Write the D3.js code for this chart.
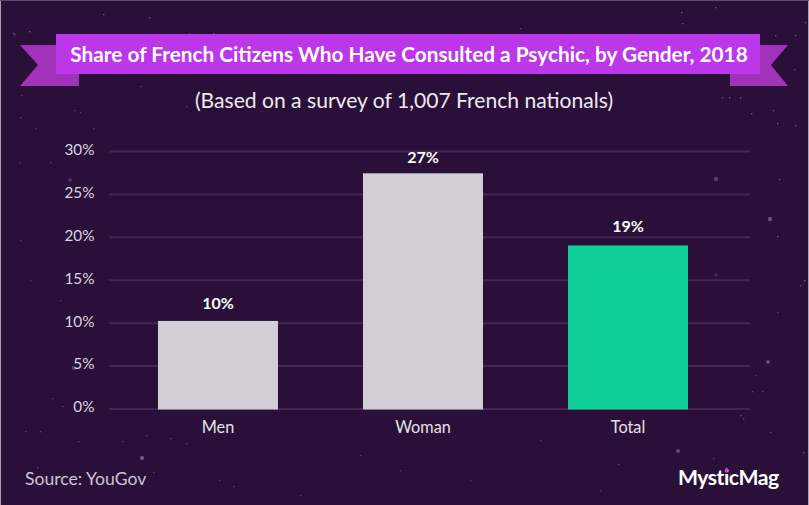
<!DOCTYPE html>
<html>
<head>
<meta charset="utf-8">
<script src="https://cdnjs.cloudflare.com/ajax/libs/d3/7.8.5/d3.min.js"></script>
<style>
    html, body { margin: 0; padding: 0; background: #2a1038; }
    svg { display: block; font-family: Lato, "Open Sans", sans-serif; }
</style>
</head>
<body>
<div id="chart"></div>
<script>
const categories = ["Men", "Woman", "Total"];
const shares = [10.2, 27.4, 19];
const shareLabels = [10, 27, 19];
const yTicks = [0, 5, 10, 15, 20, 25, 30];

const titleText = "Share of French Citizens Who Have Consulted a Psychic, by Gender, 2018";
const subtitleText = "(Based on a survey of 1,007 French nationals)";
const sourceText = "Source: YouGov";
const logoText = "MysticMag";

// background specks: [x, y, opacity]
const stars = [
    [103, 14, .5], [149, 17, .5], [29, 31, .6], [189, 33, .3], [13, 33, .5], [213, 33, .4],
    [14, 34, .4], [21, 95, .3], [140, 86, .4], [186, 106, .3], [20, 117, .4],
    [74, 110, .3], [80, 112, .3], [35, 128, .3], [93, 128, .3], [19, 162, .3], [50, 162, .3],
    [715, 7, .5], [681, 12, .5], [682, 23, .5], [805, 22, .5], [795, 35, .5], [775, 35, .5],
    [722, 97, .5], [729, 97, .5], [751, 113, .5], [740, 97, .5], [773, 110, .5], [777, 123, .5],
    [795, 125, .5], [794, 69, .4], [40, 431, .4], [25, 431, .4], [146, 435, .4], [122, 441, .3],
    [37, 467, .4], [78, 441, .4], [170, 438, .4], [186, 443, .4], [219, 480, .4], [233, 486, .4],
    [153, 472, .4], [740, 415, .4], [770, 432, .4], [743, 418, .4], [803, 452, .5], [713, 458, .4],
    [618, 464, .4], [300, 60, .3], [420, 40, .3], [520, 28, .4], [600, 70, .3], [360, 455, .3],
    [470, 480, .3], [540, 440, .3], [400, 470, .3], [300, 495, .3], [600, 490, .3], [804, 280, .5],
    [30, 280, .3], [779, 179, .5], [20, 240, .3], [777, 236, .5], [60, 300, .3], [800, 285, .4],
    [777, 312, .4], [755, 375, .3], [762, 391, .3], [752, 391, .4], [62, 406, .4], [52, 398, .3]
];
// larger blurred stars: [x, y, radius, opacity]
const glowStars = [
    [142, 458, 2, .75], [678, 451, 2, .55], [716, 179, 2.2, .45], [770, 219, 2.2, .6],
    [768, 362, 1.8, .7], [70, 180, 2, .35], [74, 368, 2.2, .4], [716, 275, 1.6, .3]
];

const width = 809;
const height = 505;

const svg = d3.select("#chart").append("svg")
    .attr("width", width)
    .attr("height", height);

svg.append("rect")
    .attr("width", width)
    .attr("height", height)
    .attr("fill", "#2a1038");

// thin grey edge of the original image
svg.append("path")
    .attr("d", `M0.5,${height} V0.5 M${width - 0.5},0 V${height}`)
    .attr("stroke", "#a9a0b0");
svg.append("path")
    .attr("d", `M0,0.5 H${width}`)
    .attr("stroke", "#5f5069");

svg.append("g").selectAll("rect")
    .data(stars)
    .enter().append("rect")
    .attr("x", d => d[0])
    .attr("y", d => d[1])
    .attr("width", 1.3)
    .attr("height", 1.3)
    .attr("fill", "#b9a8c6")
    .attr("opacity", d => d[2]);

svg.append("g").selectAll("circle")
    .data(glowStars)
    .enter().append("circle")
    .attr("cx", d => d[0])
    .attr("cy", d => d[1])
    .attr("r", d => d[2])
    .attr("fill", "#9a6bb8")
    .attr("opacity", d => d[3]);

// ribbon
const ribbon = svg.append("g");
ribbon.append("path")
    .attr("d", "M20,45 H79 V86 H20 L38,65 Z")
    .attr("fill", "#a033b8");
ribbon.append("path")
    .attr("d", "M788,45 H730 V86 H788 L771,65 Z")
    .attr("fill", "#a033b8");
ribbon.append("rect")
    .attr("x", 56)
    .attr("y", 34)
    .attr("width", 704)
    .attr("height", 40)
    .attr("fill", "#bc37ea");
ribbon.append("text")
    .attr("x", 409)
    .attr("y", 62)
    .attr("text-anchor", "middle")
    .attr("font-size", 20.8)
    .attr("font-weight", 700)
    .attr("fill", "#fff")
    .text(titleText);

svg.append("text")
    .attr("x", 404)
    .attr("y", 108)
    .attr("text-anchor", "middle")
    .attr("font-size", 21.1)
    .attr("fill", "#efeaf2")
    .text(subtitleText);

// scales
const x = d3.scaleBand()
    .domain(categories)
    .range([115.5, 730.5])
    .paddingInner(0.4146)
    .paddingOuter(0.2073);

const y = d3.scaleLinear()
    .domain([0, 30])
    .range([408.5, 151]);

// grid lines and y labels
const yAxis = svg.append("g")
    .attr("transform", "translate(109,0)")
    .call(d3.axisLeft(y).tickValues(yTicks).tickFormat(d => d + "%").tickSize(-641).tickPadding(14.5));
yAxis.select(".domain").remove();
yAxis.selectAll(".tick line")
    .attr("stroke", "#472458")
    .attr("stroke-width", 2);
yAxis.selectAll(".tick text")
    .attr("fill", "#dcd3e0")
    .attr("font-family", "Lato")
    .attr("font-size", 15.3)
    .attr("dy", "0.22em");

// bars
svg.append("g").selectAll("rect")
    .data(categories)
    .enter().append("rect")
    .attr("x", d => x(d))
    .attr("y", (d, i) => y(shares[i]))
    .attr("width", x.bandwidth())
    .attr("height", (d, i) => y(0) - y(shares[i]) + 1)
    .attr("fill", d => d === "Total" ? "#0fce98" : "#d2ced5");

// value labels sit on the rounded value, not on the bar top
svg.append("g").selectAll("text")
    .data(categories)
    .enter().append("text")
    .attr("x", d => x(d) + x.bandwidth() / 2)
    .attr("y", (d, i) => y(shareLabels[i]) - 13.5)
    .attr("text-anchor", "middle")
    .attr("font-size", 16)
    .attr("font-weight", 700)
    .attr("fill", "#fff")
    .text((d, i) => shareLabels[i] + "%");

// category labels
const xAxis = svg.append("g")
    .attr("transform", "translate(0,409)")
    .call(d3.axisBottom(x).tickSize(0).tickPadding(12));
xAxis.select(".domain").remove();
xAxis.selectAll(".tick text")
    .attr("fill", "#e6e0ea")
    .attr("font-family", "Lato")
    .attr("font-size", 16.3);

svg.append("text")
    .attr("x", 25)
    .attr("y", 485)
    .attr("font-size", 17.6)
    .attr("fill", "#cfc3d6")
    .text(sourceText);

svg.append("text")
    .attr("x", 678)
    .attr("y", 485)
    .attr("font-size", 21.2)
    .attr("font-weight", 700)
    .attr("letter-spacing", -0.5)
    .attr("fill", "#fff")
    .text(logoText);

// purple dot of the logo's i
svg.append("ellipse")
    .attr("cx", 726.5)
    .attr("cy", 470)
    .attr("rx", 1.4)
    .attr("ry", 2.6)
    .attr("fill", "#b637e6");
</script>
</body>
</html>
